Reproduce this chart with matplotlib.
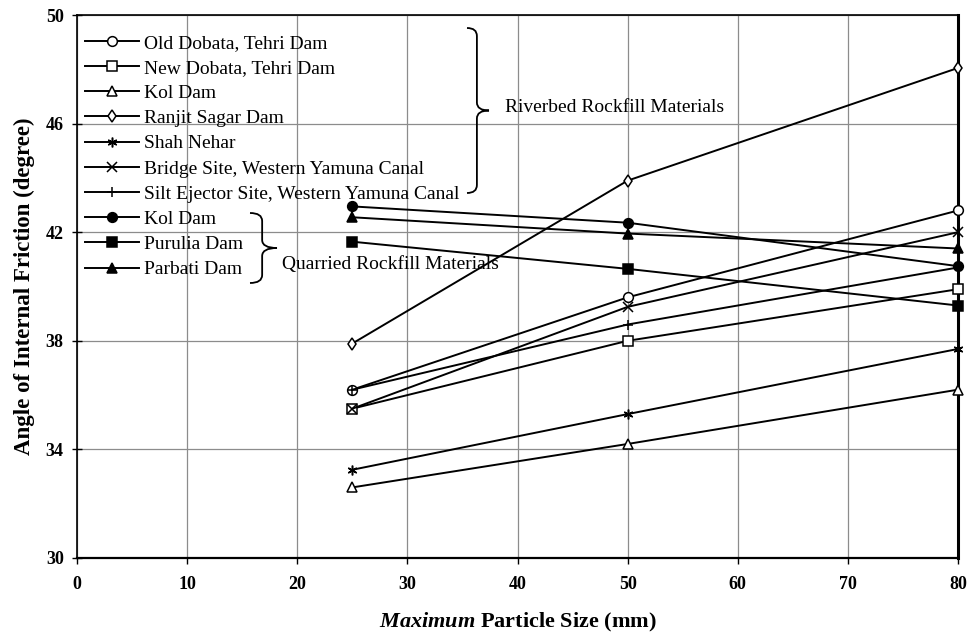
import matplotlib
matplotlib.use("Agg")
import matplotlib.pyplot as plt
from matplotlib.path import Path
import matplotlib.patches as mpatches

plt.rcParams['font.family'] = ['Liberation Serif', 'DejaVu Serif']
plt.rcParams['mathtext.fontset'] = 'custom'
plt.rcParams['mathtext.rm'] = 'Liberation Serif'
plt.rcParams['mathtext.bf'] = 'Liberation Serif:bold'
plt.rcParams['mathtext.bfit'] = 'Liberation Serif:bold:italic'

# maximum particle size (mm)
sizes = [25, 50, 80]

# angle of internal friction (degree)
old_dobata = [36.2, 39.6, 42.8]
new_dobata = [35.5, 38.0, 39.9]
kol_riverbed = [32.6, 34.2, 36.2]
ranjit_sagar = [37.9, 43.9, 48.05]
shah_nehar = [33.25, 35.3, 37.7]
bridge_site = [35.5, 39.25, 42.0]
silt_ejector = [36.2, 38.6, 40.7]
kol_quarried = [42.95, 42.35, 40.75]
purulia = [41.65, 40.65, 39.3]
parbati = [42.55, 41.95, 41.4]

series = [
    ("Old Dobata, Tehri Dam", old_dobata, 'o', 'white'),
    ("New Dobata, Tehri Dam", new_dobata, 's', 'white'),
    ("Kol Dam", kol_riverbed, '^', 'white'),
    ("Ranjit Sagar Dam", ranjit_sagar, 'd', 'white'),
    ("Shah Nehar", shah_nehar, (6, 2, 0), 'black'),
    ("Bridge Site, Western Yamuna Canal", bridge_site, 'x', 'black'),
    ("Silt Ejector Site, Western Yamuna Canal", silt_ejector, '+', 'black'),
    ("Kol Dam", kol_quarried, 'o', 'black'),
    ("Purulia Dam", purulia, 's', 'black'),
    ("Parbati Dam", parbati, '^', 'black'),
]

W, H = 971, 635
fig = plt.figure(figsize=(W / 100, H / 100), dpi=100)
ax = fig.add_axes([77 / W, 1 - 558 / H, (958 - 77) / W, (558 - 15) / H])

for label, vals, mk, face in series:
    ms = 7
    if mk == 'd':
        ms = 6
    ax.plot(sizes, vals, color='black', lw=1.4, marker=mk, markersize=ms,
            markerfacecolor=face, markeredgecolor='black', markeredgewidth=1.1,
            label=label, zorder=3, clip_on=False)

ax.set_xlim(0, 80)
ax.set_ylim(30, 50)
ax.set_xticks(range(0, 81, 10))
ax.set_yticks(range(30, 51, 4))
ax.grid(True, color='#8c8c8c', lw=0.9)
ax.set_axisbelow(True)
for s in ax.spines.values():
    s.set_linewidth(1.2)
ax.spines['right'].set_linewidth(2.2)
ax.spines['bottom'].set_linewidth(1.6)
ax.tick_params(axis='y', direction='inout', length=7, width=1, pad=6, labelsize=13)
ax.tick_params(axis='x', direction='out', length=4, width=1, pad=9, labelsize=13)
for t in ax.get_xticklabels() + ax.get_yticklabels():
    t.set_fontweight('bold')

ax.set_ylabel("Angle of Internal Friction (degree)", fontsize=16.5, fontweight='bold', labelpad=8)
ax.set_xlabel(r"$\mathbfit{Maximum}$ Particle Size (mm)", fontsize=16, fontweight='bold', labelpad=13)

leg = ax.legend(loc='upper left', bbox_to_anchor=(0.009, 0.965), frameon=False,
                fontsize=14, handlelength=2.8, handletextpad=0.25,
                labelspacing=0.39, borderaxespad=0.0, borderpad=0.0)


def brace(x0, top, bottom, w):
    # curly brace "}" in image pixel coords (origin top-left)
    xs = x0 + w * 0.45
    xt = x0 + w
    mid = (top + bottom) / 2
    r = min(8, (bottom - top) / 6)
    pts = [(x0, top), (xs, top), (xs, top + r),
           (xs, mid - r), (xs, mid), (xt, mid),
           (xs, mid), (xs, mid + r),
           (xs, bottom - r), (xs, bottom), (x0, bottom)]
    codes = [Path.MOVETO, Path.CURVE3, Path.CURVE3,
             Path.LINETO, Path.CURVE3, Path.CURVE3,
             Path.CURVE3, Path.CURVE3,
             Path.LINETO, Path.CURVE3, Path.CURVE3]
    pts = [(px / W, 1 - py / H) for px, py in pts]
    patch = mpatches.PathPatch(Path(pts, codes), fill=False, lw=1.3,
                               edgecolor='black', transform=fig.transFigure)
    fig.add_artist(patch)


brace(467, 28, 193, 22)
brace(250, 213, 283, 27)
fig.text(505 / W, 1 - 107 / H, "Riverbed Rockfill Materials", fontsize=14,
         va='center', ha='left')
fig.text(282 / W, 1 - 264 / H, "Quarried Rockfill Materials", fontsize=14,
         va='center', ha='left')

fig.savefig("out.png", dpi=100)
